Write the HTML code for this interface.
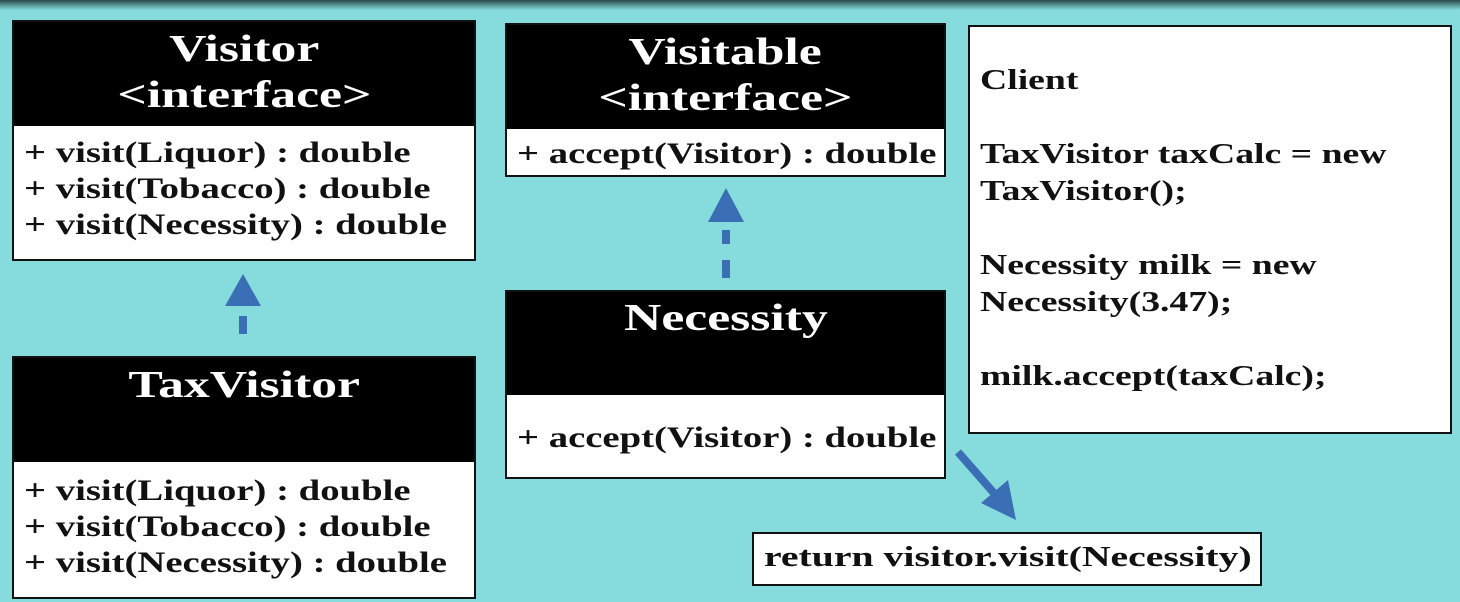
<!DOCTYPE html>
<html><head><style>
body{margin:0;width:1460px;height:602px;overflow:hidden;background:#86dcdc;font-family:"Liberation Serif",serif;font-weight:bold;position:relative}
.top{position:absolute;left:0;top:0;width:1460px;height:10px;background:linear-gradient(#2a4a4a,#86dcdc)}
.box{position:absolute;background:#fff;border:2px solid #111;box-sizing:border-box}
.hd{background:#000;color:#fff;text-align:center;font-size:38px;line-height:46px}
.hd span{display:inline-block;transform:scaleX(1.36);transform-origin:center}
.bd{font-size:30px;line-height:36px;padding-left:10px;color:#111;white-space:nowrap}
.bd span{display:inline-block;transform:scaleX(1.29);transform-origin:left}
.t{position:absolute;font-size:29px;color:#111;white-space:nowrap;transform-origin:left top}
</style></head><body>
<div class="top"></div>
<div class="box" style="left:12px;top:20px;width:464px;height:241px">
<div class="hd" style="height:104px;padding-top:4px;box-sizing:border-box"><span>Visitor</span><br><span>&lt;interface&gt;</span></div>
<div class="bd" style="padding-top:9px"><span>+ visit(Liquor) : double</span><br><span>+ visit(Tobacco) : double</span><br><span>+ visit(Necessity) : double</span></div></div>

<div class="box" style="left:505px;top:23px;width:441px;height:154px">
<div class="hd" style="height:104px;padding-top:4px;box-sizing:border-box"><span>Visitable</span><br><span>&lt;interface&gt;</span></div>
<div class="bd" style="padding-top:7px"><span>+ accept(Visitor) : double</span></div></div>

<div class="box" style="left:968px;top:25px;width:484px;height:409px">
<div class="t" style="left:10px;top:35px;line-height:37px;transform:scaleX(1.3)">Client<br><br>TaxVisitor taxCalc = new<br>TaxVisitor();<br><br>Necessity milk = new<br>Necessity(3.47);<br><br>milk.accept(taxCalc);</div></div>

<div class="box" style="left:12px;top:356px;width:464px;height:243px">
<div class="hd" style="height:104px;padding-top:4px;box-sizing:border-box"><span>TaxVisitor</span></div>
<div class="bd" style="padding-top:11px"><span>+ visit(Liquor) : double</span><br><span>+ visit(Tobacco) : double</span><br><span>+ visit(Necessity) : double</span></div></div>

<div class="box" style="left:505px;top:290px;width:441px;height:189px">
<div class="hd" style="height:103px;padding-top:3px;box-sizing:border-box"><span>Necessity</span></div>
<div class="bd" style="padding-top:25px"><span>+ accept(Visitor) : double</span></div></div>

<div class="box" style="left:752px;top:532px;width:510px;height:54px">
<div class="t" style="left:10px;top:7px;transform:scaleX(1.37)">return visitor.visit(Necessity)</div></div>

<svg style="position:absolute;left:0;top:0" width="1460" height="602">
<g fill="#3a6fb5" stroke="none">
<polygon points="243,274 225,306 261,306"/>
<rect x="239" y="316" width="8" height="18"/>
<polygon points="726,188 708,222 744,222"/>
<rect x="722" y="230" width="8" height="14"/>
<rect x="722" y="260" width="8" height="18"/>
</g>
<line x1="958" y1="452" x2="1000" y2="500" stroke="#3a6fb5" stroke-width="8"/>
<polygon points="1016,520 981,503 1008,480" fill="#3a6fb5"/>
</svg>
</body></html>
